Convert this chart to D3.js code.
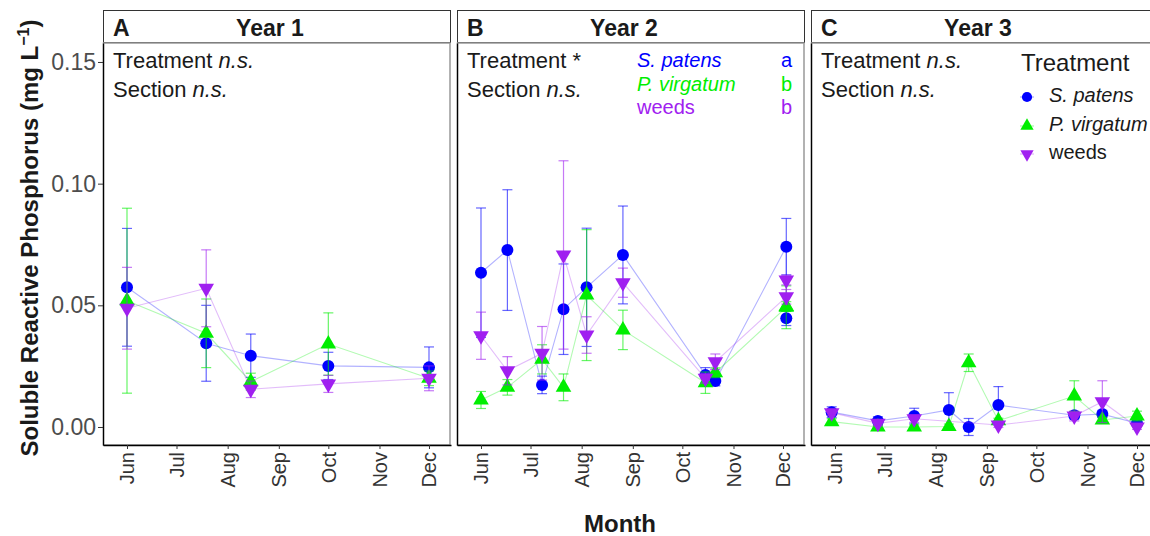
<!DOCTYPE html>
<html>
<head>
<meta charset="utf-8">
<script src="https://cdn.jsdelivr.net/npm/d3@7"></script>
<style>
  body { margin: 0; background: #fff; }
  text { font-family: "Liberation Sans", Arial, sans-serif; }
</style>
</head>
<body>
<svg id="chart"></svg>
<script>
// data
const months = ["06-01", "07-01", "08-01", "09-01", "10-01", "11-01", "12-01"];
const yTicks = [0, 0.05, 0.10, 0.15];
const treatments = ["S. patens", "P. virgatum", "weeds"];
const colors = ["#0000ff", "#00ee00", "#a020f0"];

// Year 1
const y1Dates = ["06-01", "07-19", "08-15", "10-01", "12-01"];
const y1Spatens = [0.0574, 0.0344, 0.0293, 0.0251, 0.0245];
const y1SpatensSE = [0.0242, 0.0156, 0.0089, 0.0056, 0.0084];
const y1Pvirg = [0.0519, 0.0385, 0.0186, 0.0341, 0.0200];
const y1PvirgSE = [0.0380, 0.0141, 0.0035, 0.0128, 0.0030];
const y1Weeds = [0.0488, 0.0570, 0.0155, 0.0177, 0.0200];
const y1WeedsSE = [0.0168, 0.0158, 0.0034, 0.0035, 0.0051];

// Year 2
const y2Dates = ["06-01", "06-17", "07-08", "07-21", "08-04", "08-26", "10-15", "10-21", "12-03", "12-03"];
const y2Spatens = [0.0634, 0.0727, 0.0173, 0.0484, 0.0574, 0.0707, 0.0214, 0.0189, 0.0741, 0.0447];
const y2SpatensSE = [0.0266, 0.0248, 0.0036, 0.0186, 0.0243, 0.0201, 0.0030, 0.0020, 0.0116, 0.0030];
const y2Pvirg = [0.0111, 0.0163, 0.0278, 0.0163, 0.0542, 0.0399, 0.0182, 0.0223, 0.0492, 0.0495];
const y2PvirgSE = [0.0035, 0.0032, 0.0060, 0.0055, 0.0269, 0.0081, 0.0044, 0.0020, 0.0088, 0.0020];
const y2Weeds = [0.0375, 0.0231, 0.0303, 0.0707, 0.0378, 0.0593, 0.0200, 0.0268, 0.0535, 0.0604];
const y2WeedsSE = [0.0097, 0.0058, 0.0110, 0.0387, 0.0075, 0.0060, 0.0020, 0.0032, 0.0030, 0.0020];

// Year 3
const y3Dates = ["05-30", "06-27", "07-19", "08-09", "08-21", "09-08", "10-24", "11-10", "12-01"];
const y3Spatens = [0.0061, 0.0025, 0.0045, 0.0070, 0.0000, 0.0090, 0.0048, 0.0053, 0.0015];
const y3SpatensSE = [0.0022, 0.0017, 0.0032, 0.0071, 0.0035, 0.0076, 0.0015, 0.0015, 0.0010];
const y3Pvirg = [0.0022, 0.0000, 0.0000, 0.0002, 0.0264, 0.0026, 0.0127, 0.0029, 0.0045];
const y3PvirgSE = [0.0012, 0.0008, 0.0008, 0.0010, 0.0036, 0.0010, 0.0063, 0.0010, 0.0020];
const y3Weeds = [0.0059, 0.0015, 0.0034, null, null, 0.0008, 0.0045, 0.0104, 0.0000];
const y3WeedsSE = [0.0012, 0.0010, 0.0015, null, null, 0.0010, 0.0020, 0.0086, 0.0010];

const parse = d3.timeParse("%Y-%m-%d");
const toDate = s => parse("2001-" + s);

const panels = [
  { tag: "A", title: "Year 1", treat: "n.s.", dates: y1Dates,
    mean: [y1Spatens, y1Pvirg, y1Weeds], se: [y1SpatensSE, y1PvirgSE, y1WeedsSE] },
  { tag: "B", title: "Year 2", treat: "*", dates: y2Dates,
    mean: [y2Spatens, y2Pvirg, y2Weeds], se: [y2SpatensSE, y2PvirgSE, y2WeedsSE] },
  { tag: "C", title: "Year 3", treat: "n.s.", dates: y3Dates,
    mean: [y3Spatens, y3Pvirg, y3Weeds], se: [y3SpatensSE, y3PvirgSE, y3WeedsSE] }
];

// layout
const panelW = 348, plotTop = 43, plotBottom = 445;
const panelX = [103, 457, 811];

const svg = d3.select("#chart").attr("width", 1150).attr("height", 536);

const x = d3.scaleTime()
  .domain([new Date(2001, 4, 17, 11), new Date(2001, 11, 14, 8)])
  .range([0, panelW]);

const y = d3.scaleLinear()
  .domain([-0.0074, 0.1578])
  .range([plotBottom, plotTop]);

function drawSymbol(sel, t, cx, cy, scale) {
  if (t === 0) {
    sel.append("circle").attr("cx", cx).attr("cy", cy).attr("r", 6 * scale)
      .attr("fill", colors[0]);
  } else {
    sel.append("path")
      .attr("d", d3.symbol().type(d3.symbolTriangle).size(105 * scale * scale)())
      .attr("transform", "translate(" + cx + "," + cy + ")" + (t === 2 ? " rotate(180)" : ""))
      .attr("fill", colors[t]);
  }
}

panels.forEach(function (p, i) {
  const g = svg.append("g").attr("transform", "translate(" + panelX[i] + ",0)");

  // strip
  g.append("rect").attr("x", 0.5).attr("y", 10.5).attr("width", panelW - 1).attr("height", 32)
    .attr("fill", "#fff").attr("stroke", "#333");
  g.append("text").attr("x", 10).attr("y", 36).attr("font-size", 23).attr("font-weight", "bold")
    .attr("fill", "#1a1a1a").text(p.tag);
  g.append("text").attr("x", panelW / 2 - 7).attr("y", 36).attr("font-size", 23)
    .attr("font-weight", "bold").attr("text-anchor", "middle").attr("fill", "#1a1a1a").text(p.title);

  // panel border
  g.append("rect").attr("x", 0.5).attr("y", plotTop).attr("width", panelW - 1.5).attr("height", plotBottom - plotTop)
    .attr("fill", "none").attr("stroke", "#999").attr("stroke-width", 1.5);

  // X轴
  const xa = g.append("g").attr("transform", "translate(0," + plotBottom + ")")
    .call(d3.axisBottom(x).tickValues(months.map(toDate))
      .tickFormat(d3.timeFormat("%b")).tickSize(4).tickSizeOuter(0));
  xa.select(".domain").attr("stroke", "#000").attr("stroke-width", 1.3);
  xa.selectAll(".tick line").attr("stroke", "#333");
  xa.selectAll(".tick text")
    .attr("transform", "rotate(-90)")
    .attr("text-anchor", "end")
    .attr("x", -7).attr("y", 0).attr("dy", "0.35em")
    .attr("font-size", 20).attr("fill", "#333")
    .style("font-family", "'Liberation Sans', Arial, sans-serif");

  // Y轴
  const ya = g.append("g")
    .call(d3.axisLeft(y).tickValues(yTicks).tickFormat(d3.format(".2f"))
      .tickSize(i === 0 ? 5 : 0).tickSizeOuter(0));
  ya.select(".domain").attr("stroke", "#000").attr("stroke-width", 1.3);
  ya.selectAll(".tick line").attr("stroke", "#333");
  if (i === 0) {
    ya.selectAll(".tick text").attr("font-size", 23).attr("fill", "#4d4d4d").attr("x", -7)
      .style("font-family", "'Liberation Sans', Arial, sans-serif");
  } else {
    ya.selectAll(".tick text").remove();
  }

  // annotations
  const t1 = g.append("text").attr("x", 10).attr("y", 68).attr("font-size", 22).attr("fill", "#1a1a1a");
  t1.append("tspan").text("Treatment ");
  t1.append("tspan").attr("font-style", p.treat === "*" ? "normal" : "italic").text(p.treat);
  const t2 = g.append("text").attr("x", 10).attr("y", 97).attr("font-size", 22).attr("fill", "#1a1a1a");
  t2.append("tspan").text("Section ");
  t2.append("tspan").attr("font-style", "italic").text("n.s.");

  // series
  const plot = g.append("g");
  treatments.forEach(function (name, t) {
    const rows = p.dates.map(function (d, j) {
      return { date: toDate(d), m: p.mean[t][j], se: p.se[t][j] };
    }).filter(function (r) { return r.m !== null; });

    plot.append("path").datum(rows)
      .attr("fill", "none").attr("stroke", colors[t]).attr("stroke-opacity", 0.3).attr("stroke-width", 1.1)
      .attr("d", d3.line().x(function (d) { return x(d.date); }).y(function (d) { return y(d.m); }));

    rows.forEach(function (r) { drawSymbol(plot, t, x(r.date), y(r.m), 1); });

    const eb = plot.append("g").attr("stroke", colors[t]).attr("stroke-opacity", 0.6).attr("stroke-width", 1.2);
    rows.forEach(function (r) {
      const cx = x(r.date), y0 = y(r.m - r.se), y1 = y(r.m + r.se);
      eb.append("line").attr("x1", cx).attr("x2", cx).attr("y1", y0).attr("y2", y1);
      eb.append("line").attr("x1", cx - 5).attr("x2", cx + 5).attr("y1", y0).attr("y2", y0);
      eb.append("line").attr("x1", cx - 5).attr("x2", cx + 5).attr("y1", y1).attr("y2", y1);
    });
  });

  // Year 2 letters
  if (i === 1) {
    const letters = ["a", "b", "b"];
    treatments.forEach(function (name, t) {
      g.append("text").attr("x", 180).attr("y", 67 + t * 23.7).attr("font-size", 20)
        .attr("font-style", t < 2 ? "italic" : "normal").attr("fill", colors[t]).text(name);
      g.append("text").attr("x", 335).attr("y", 67 + t * 23.7).attr("font-size", 20)
        .attr("text-anchor", "end").attr("fill", colors[t]).text(letters[t]);
    });
  }

  // legend
  if (i === 2) {
    g.append("text").attr("x", 210).attr("y", 71).attr("font-size", 24).attr("fill", "#1a1a1a").text("Treatment");
    const ly = [97, 126, 154];
    treatments.forEach(function (name, t) {
      g.append("line").attr("x1", 209).attr("x2", 223).attr("y1", ly[t]).attr("y2", ly[t])
        .attr("stroke", colors[t]).attr("stroke-opacity", 0.4);
      drawSymbol(g, t, 216, ly[t], 0.85);
      g.append("text").attr("x", 238).attr("y", ly[t] + 5).attr("font-size", 20)
        .attr("font-style", t < 2 ? "italic" : "normal").attr("fill", "#1a1a1a").text(name);
    });
  }
});

// axis titles
svg.append("text").attr("x", 620).attr("y", 532).attr("text-anchor", "middle")
  .attr("font-size", 24).attr("font-weight", "bold").attr("fill", "#1a1a1a").text("Month");

const yt = svg.append("text").attr("transform", "translate(38,238) rotate(-90)")
  .attr("text-anchor", "middle").attr("font-size", 24).attr("font-weight", "bold").attr("fill", "#1a1a1a");
yt.append("tspan").text("Soluble Reactive Phosphorus (mg L");
yt.append("tspan").attr("dy", -9).attr("font-size", 16).text("\u22121");
yt.append("tspan").attr("dy", 9).text(")");
</script>
</body>
</html>
